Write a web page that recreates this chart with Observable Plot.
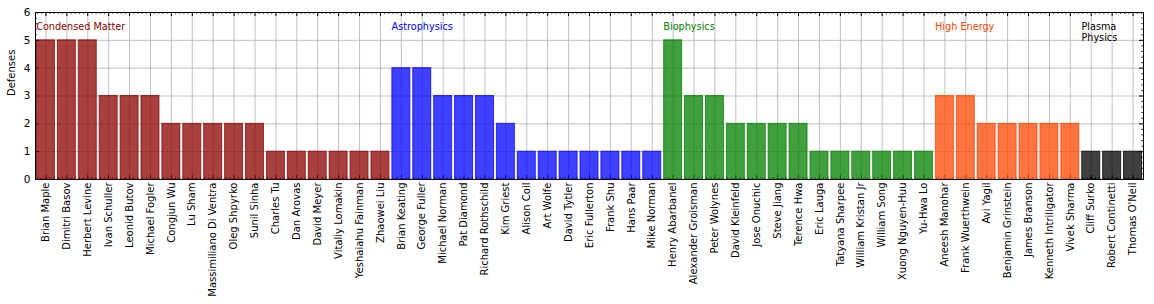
<!DOCTYPE html>
<html>
<head>
<meta charset="utf-8">
<script src="https://cdn.jsdelivr.net/npm/d3@7"></script>
<script src="https://cdn.jsdelivr.net/npm/@observablehq/plot@0.6"></script>
<style>
  html, body { margin: 0; padding: 0; background: #fff; }
  #chart svg { display: block; }
</style>
</head>
<body>
<div id="chart"></div>
<script>
const names = [
  "Brian Maple","Dimitri Basov","Herbert Levine","Ivan Schuller","Leonid Butov","Michael Fogler",
  "Congjun Wu","Lu Sham","Massimiliano Di Ventra","Oleg Shpyrko","Sunil Sinha","Charles Tu",
  "Dan Arovas","David Meyer","Vitaliy Lomakin","Yeshaiahu Fainman","Zhaowei Liu",
  "Brian Keating","George Fuller","Michael Norman","Pat Diamond","Richard Rothschild","Kim Griest",
  "Alison Coil","Art Wolfe","David Tytler","Eric Fullerton","Frank Shu","Hans Paar","Mike Norman",
  "Henry Abarbanel","Alexander Groisman","Peter Wolynes","David Kleinfeld","Jose Onuchic","Steve Jiang",
  "Terence Hwa","Eric Lauga","Tatyana Sharpee","William Kristan Jr","William Song","Xuong Nguyen-Huu","Yu-Hwa Lo",
  "Aneesh Manohar","Frank Wuerthwein","Avi Yagil","Benjamin Grinstein","James Branson","Kenneth Intriligator","Vivek Sharma",
  "Cliff Surko","Robert Continetti","Thomas O'Neil"
];
const defenses = [
  5,5,5,3,3,3,2,2,2,2,2,1,1,1,1,1,1,
  4,4,3,3,3,2,1,1,1,1,1,1,1,
  5,3,3,2,2,2,2,1,1,1,1,1,1,
  3,3,2,2,2,2,2,
  1,1,1
];
const groupNames = ["Condensed Matter","Astrophysics","Biophysics","High Energy","Plasma\nPhysics"];
const groupSizes = [17, 13, 13, 7, 3];
const groupColors = ["darkred","blue","green","orangered","black"];
const yTicks = [0,1,2,3,4,5,6];

// build tables
const fieldOf = groupSizes.flatMap((n, g) => Array(n).fill(groupNames[g]));
const data = names.map((name, i) => ({i, name, v: defenses[i], field: fieldOf[i]}));
const groupStarts = groupSizes.map((n, g) => d3.sum(groupSizes.slice(0, g)));
const groups = groupNames.map((name, g) => ({name, start: groupStarts[g], color: groupColors[g]}));

const idx = d3.range(names.length);
const minorX = d3.range(-2, names.length * 5 + 3).map(k => k / 5).filter(v => v >= -0.5 && v <= names.length - 0.5 && Math.abs(v - Math.round(v)) > 1e-6);
const minorY = d3.range(0, 31).map(k => k / 5).filter(v => Math.abs(v - Math.round(v)) > 1e-6);

const W = 1154, H = 304;
const mt = 12, mb = 125, ml = 35, mr = 11;
const innerH = H - mt - mb;
const innerW = W - ml - mr;
const major = 4, minor = 2;

const plot = Plot.plot({
  width: W,
  height: H,
  marginTop: mt,
  marginBottom: mb,
  marginLeft: ml,
  marginRight: mr,
  style: {fontFamily: "DejaVu Sans", fontSize: "10px", color: "black", background: "white"},
  x: {type: "linear", domain: [-0.5, names.length - 0.5], axis: null},
  y: {domain: [0, 6], axis: null},
  color: {domain: groupNames, range: groupColors},
  marks: [
    Plot.gridX(idx, {stroke: "#b0b0b0", strokeOpacity: 1, strokeWidth: 0.8}),
    Plot.gridY(yTicks, {stroke: "#b0b0b0", strokeOpacity: 1, strokeWidth: 0.8}),
    // ticks (inward)
    Plot.tickX(idx, {x: d => d, insetTop: innerH - major, stroke: "black", strokeWidth: 1}),
    Plot.tickX(idx, {x: d => d, insetBottom: innerH - major, stroke: "black", strokeWidth: 1}),
    Plot.tickX(minorX, {x: d => d, insetTop: innerH - minor, stroke: "black", strokeWidth: 0.7}),
    Plot.tickX(minorX, {x: d => d, insetBottom: innerH - minor, stroke: "black", strokeWidth: 0.7}),
    Plot.tickY(yTicks, {y: d => d, insetRight: innerW - major, stroke: "black", strokeWidth: 1}),
    Plot.tickY(yTicks, {y: d => d, insetLeft: innerW - major, stroke: "black", strokeWidth: 1}),
    Plot.tickY(minorY, {y: d => d, insetRight: innerW - minor, stroke: "black", strokeWidth: 0.7}),
    Plot.tickY(minorY, {y: d => d, insetLeft: innerW - minor, stroke: "black", strokeWidth: 0.7}),
    // bars
    Plot.rectY(data, {
      x1: d => d.i - 0.43, x2: d => d.i + 0.43, y1: 0, y2: "v",
      fill: "field", fillOpacity: 0.75, stroke: "field", strokeOpacity: 0.75, strokeWidth: 1
    }),
    // group labels
    Plot.text(groups, {
      x: d => d.start - 0.47, y: 5.68, text: "name", fill: d => d.color,
      textAnchor: "start", lineAnchor: "top", fontSize: 9.7, lineHeight: 1.2
    }),
    Plot.frame({stroke: "black", strokeWidth: 1}),
    // axes labels
    Plot.axisY(yTicks, {tickSize: 0, tickPadding: 5, fontSize: 10.5, label: null}),
    Plot.axisX(idx, {tickSize: 0, tickPadding: 3, tickRotate: -90, fontSize: 10,
      tickFormat: i => names[i], label: null}),
    Plot.text(["Defenses"], {text: d => d, frameAnchor: "left", dx: -24, rotate: -90, fontSize: 10})
  ]
});
document.getElementById("chart").appendChild(plot);
</script>
</body>
</html>
